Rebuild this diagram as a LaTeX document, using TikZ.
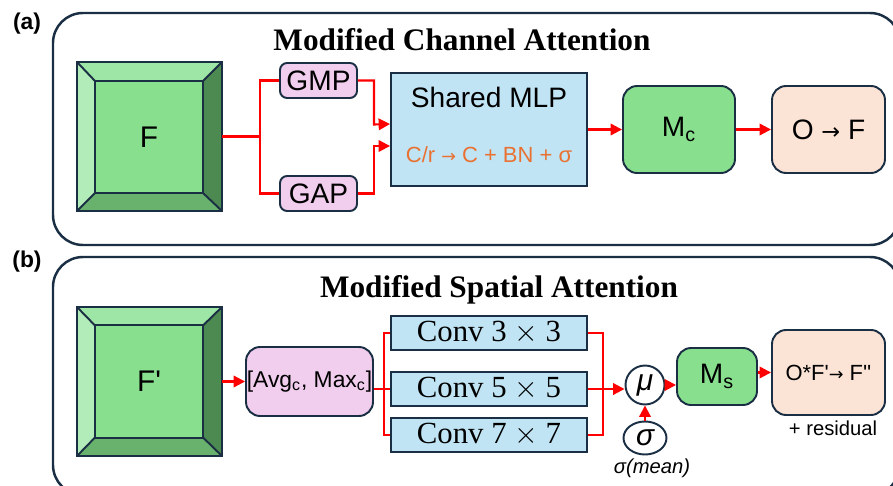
\documentclass[tikz,border=0pt]{standalone}
\usepackage{fontspec}
\setmainfont{Liberation Sans}
\newfontfamily\titlefont{Liberation Serif}
\newfontfamily\arrowfont{DejaVu Sans}
\usetikzlibrary{arrows.meta,shapes.geometric}

\definecolor{navy}{HTML}{1B2F44}
\definecolor{fgreen}{HTML}{88E08E}
\definecolor{gtop}{HTML}{9EE6A6}
\definecolor{gleft}{HTML}{B2ECB8}
\definecolor{gright}{HTML}{4C8A52}
\definecolor{gbottom}{HTML}{68B26E}
\definecolor{fpink}{HTML}{F1CDEE}
\definecolor{fblue}{HTML}{C0E4F4}
\definecolor{fpeach}{HTML}{FBE3D6}
\definecolor{opcol}{HTML}{E97132}

\newcommand{\rarr}{{\arrowfont\scalebox{0.8}{→}}}

% bevelled feature block: outer node, inner node
\newcommand{\bevelsides}[2]{%
  \fill[gtop] (#1.north west) -- (#1.north east) -- (#2.north east) -- (#2.north west) -- cycle;
  \fill[gleft] (#1.north west) -- (#2.north west) -- (#2.south west) -- (#1.south west) -- cycle;
  \fill[gright] (#1.north east) -- (#1.south east) -- (#2.south east) -- (#2.north east) -- cycle;
  \fill[gbottom] (#1.south west) -- (#2.south west) -- (#2.south east) -- (#1.south east) -- cycle;
  \draw[boxline] (#1.north west) rectangle (#1.south east);
  \draw[boxline] (#2.north west) rectangle (#2.south east);
  \draw[boxline] (#1.north west) -- (#2.north west) (#1.north east) -- (#2.north east)
    (#1.south west) -- (#2.south west) (#1.south east) -- (#2.south east);
}

\begin{document}
\begin{tikzpicture}[x=0.02cm, y=-0.02cm,
    boxline/.style={draw=navy, line width=1.1pt},
    panel/.style={draw=navy, line width=1.4pt, rounded corners=0.6cm},
    bevelout/.style={minimum width=2.9cm, minimum height=2.98cm, inner sep=0},
    bevelin/.style={fill=fgreen, minimum width=2.16cm, minimum height=2.24cm, inner sep=0, font=\fontsize{17}{20}\selectfont},
    pool/.style={boxline, fill=fpink, rounded corners=4pt, minimum width=1.54cm, minimum height=0.7cm, inner sep=0, font=\fontsize{16}{18}\selectfont},
    mlpbox/.style={boxline, fill=fblue, minimum width=3.92cm, minimum height=2.26cm, inner sep=0},
    mapbox/.style={boxline, fill=fgreen, rounded corners=8pt, inner sep=0, font=\fontsize{16}{18}\selectfont},
    outbox/.style={boxline, fill=fpeach, rounded corners=8pt, minimum width=2.26cm, inner sep=0},
    convbox/.style={boxline, fill=fblue, minimum width=3.92cm, minimum height=0.68cm, inner sep=0, font=\titlefont\fontsize{17.5}{19}\selectfont},
    opnode/.style={boxline, fill=white, inner sep=0, font=\itshape\fontsize{17}{19}\selectfont},
    redline/.style={red, line width=1.2pt},
    arrow/.style={redline, -{Triangle[length=6.5pt, width=6.5pt]}},
    title/.style={font=\titlefont\bfseries\fontsize{17.8}{20}\selectfont},
    tag/.style={font=\bfseries\fontsize{13}{15}\selectfont}
]
\useasboundingbox (0,0) rectangle (893,486);

% (a) channel attention
\draw[panel] (53,13) rectangle (900,245);
\node[tag] (taga) at (27,24) {(a)};
\node[title] (titlea) at (462,40) {Modified Channel Attention};

\node[bevelout] (fa) at (149.5,136.5) {};
\node[bevelin] (fai) at (149,137) {F};
\bevelsides{fa}{fai}

\node[pool] (gmp) at (318.5,80.5) {GMP};
\node[pool] (gap) at (318.5,193.5) {GAP};
\node[mlpbox] (mlp) at (489,129.5) {};
\node[font=\fontsize{16}{18}\selectfont] (mlptext) at (489,97) {Shared MLP};
\node[font=\fontsize{12.5}{14}\selectfont, text=opcol] (mlpops) at (489,155) {C/r \rarr{} C + BN + σ};
\node[mapbox, minimum width=2.24cm, minimum height=1.74cm] (mc) at (679,129.5) {M\textsubscript{c}};
\node[outbox, minimum height=1.74cm, font=\fontsize{16}{18}\selectfont] (otof) at (828.5,129.5) {O \rarr{} F};

\draw[redline] (fa.east) -- ++(38,0) coordinate (splita);
\draw[redline] (gmp.west) -| (splita) |- (gap.west);
\draw[arrow] (gmp.east) -| ++(16,44) -- (mlp.west |- 0,124);
\draw[arrow] (gap.east) -| ++(16,-47.5) -- (mlp.west |- 0,146);
\draw[arrow] (mlp) -- (mc);
\draw[arrow] (mc) -- (otof);

% (b) spatial attention
\draw[panel] (53,257) rectangle (900,495);
\node[tag] (tagb) at (27,262) {(b)};
\node[title] (titleb) at (499,290) {Modified Spatial Attention};

\node[bevelout] (fb) at (149.5,381.5) {};
\node[bevelin] (fbi) at (149,381.5) {F\textquotesingle};
\bevelsides{fb}{fbi}

\node[pool, minimum width=2.54cm, minimum height=1.38cm, rounded corners=8pt, font=\fontsize{13}{15}\selectfont] (avgmax) at (309.5,381.5) {[Avg\textsubscript{c}, Max\textsubscript{c}]};
\node[convbox] (conv3) at (489,333) {Conv 3 $\times$ 3};
\node[convbox] (conv5) at (489,389) {Conv 5 $\times$ 5};
\node[convbox] (conv7) at (489,435) {Conv 7 $\times$ 7};
\node[opnode, circle, minimum size=0.78cm] (mu) at (645,385) {μ};
\node[opnode, ellipse, minimum width=0.86cm, minimum height=0.66cm] (sig) at (645,438) {σ};
\node[font=\itshape\fontsize{11.5}{13}\selectfont] (sigtext) at (652,468) {σ(mean)};
\node[mapbox, minimum width=1.6cm, minimum height=1.14cm] (ms) at (717,376.5) {M\textsubscript{s}};
\node[outbox, minimum height=1.7cm, font=\fontsize{12.5}{14}\selectfont] (ofo) at (828.5,372.5) {O*F\textquotesingle\rarr{} F\textquotesingle\textquotesingle};
\node[font=\fontsize{11.5}{13}\selectfont] (resid) at (833,428) {+ residual};

\draw[arrow] (fb) -- (avgmax);
\draw[redline] (avgmax.east |- conv5) -- (conv5.west);
\draw[redline] (conv3.west) -- ++(-6,0) |- (conv7.west);
\draw[redline] (conv3.east) -- ++(15,0) |- (conv7.east);
\draw[arrow] (conv5.east) -- (conv5.east -| mu.west);
\draw[arrow] (sig) -- (mu);
\draw[arrow] (mu.east) -- (mu.east -| ms.west);
\draw[arrow] (ms.east |- ofo) -- (ofo.west);

\end{tikzpicture}
\end{document}
